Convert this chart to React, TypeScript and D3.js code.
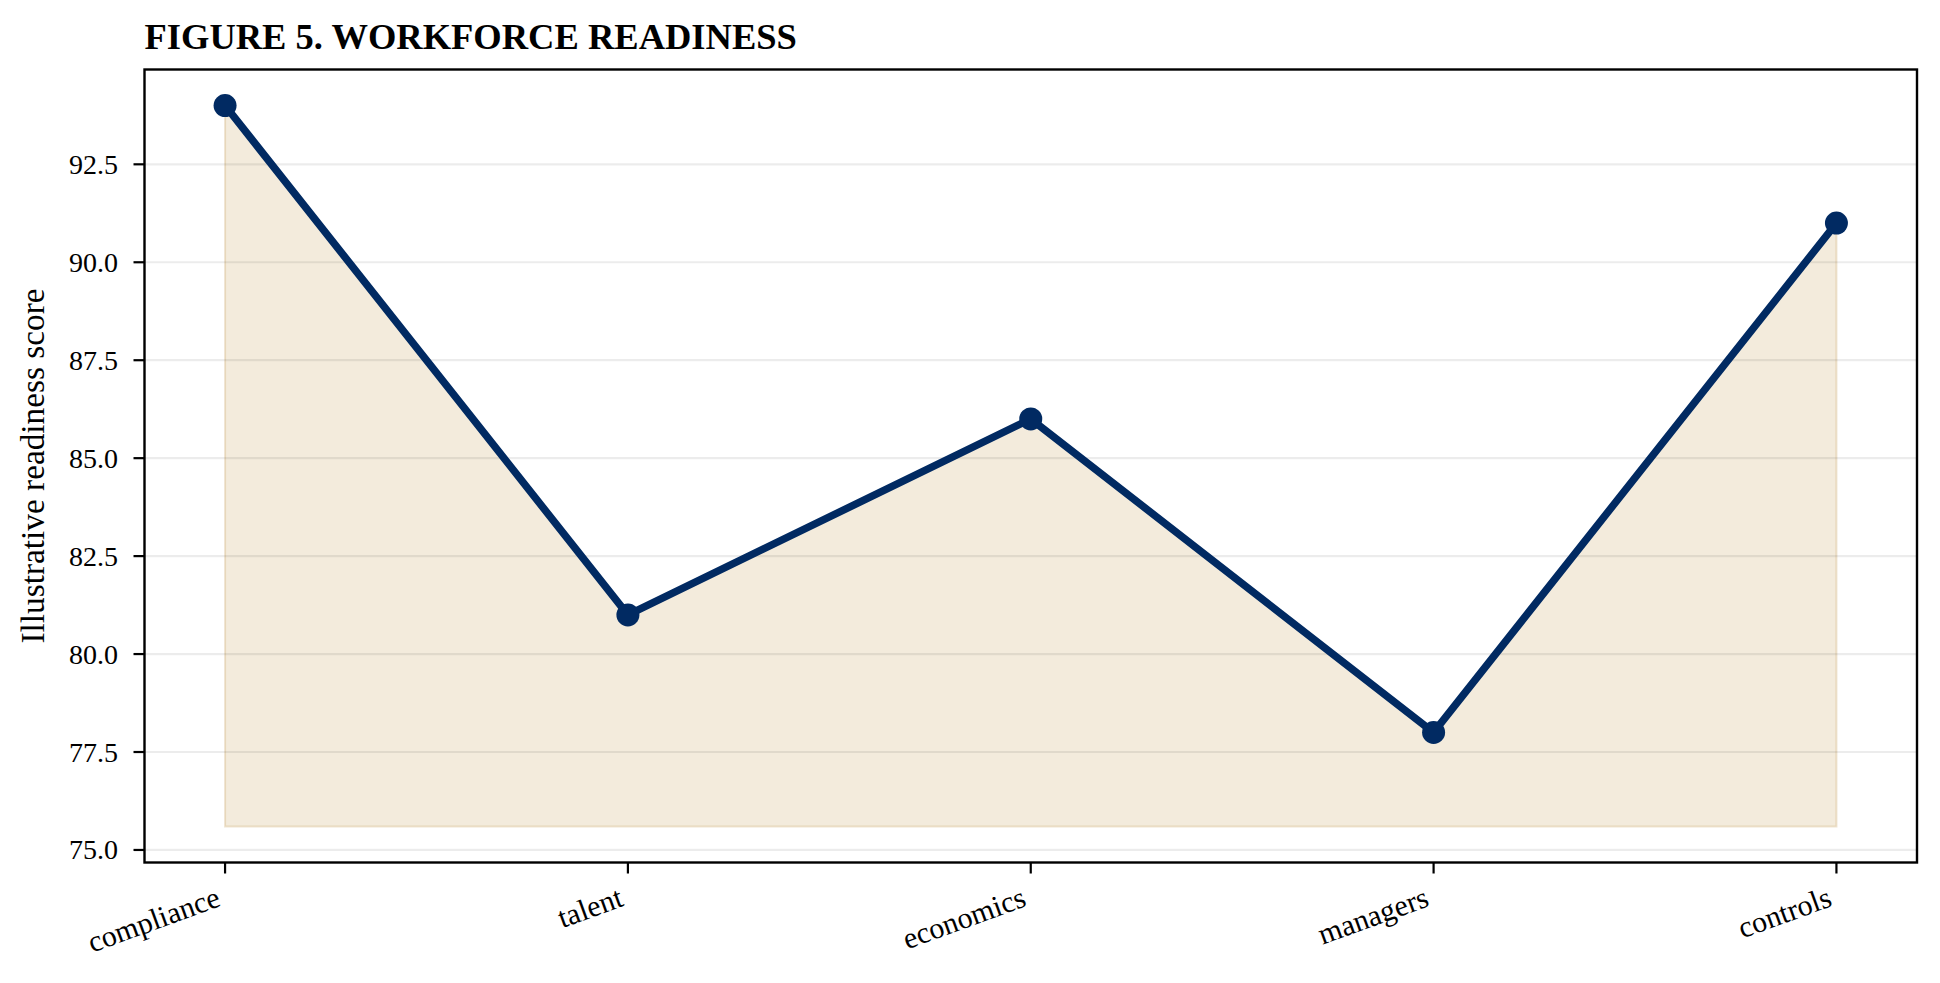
import * as d3 from "d3";

// chart data
const categories = ["compliance", "talent", "economics", "managers", "controls"];
const scores = [94, 81, 86, 78, 91];
const fillBase = 75.6;
const yTicks = [75, 77.5, 80, 82.5, 85, 87.5, 90, 92.5];

const title = "FIGURE 5. WORKFORCE READINESS";
const yLabel = "Illustrative readiness score";

const width = 1940;
const height = 983;
const margin = { top: 69.5, right: 23, bottom: 120.5, left: 144.5 };
const font = "'Liberation Serif', 'Times New Roman', Times, serif";

const navy = "#012A62";
const sand = "#C9A768";

export default function App() {
  const innerRight = width - margin.right;
  const innerBottom = height - margin.bottom;

  // x: categorical positions with 5% padding like matplotlib
  const n = categories.length - 1;
  const x = d3
    .scaleLinear()
    .domain([-0.05 * n, n * 1.05])
    .range([margin.left, innerRight]);

  const lo = Math.min(fillBase, d3.min(scores));
  const hi = d3.max(scores);
  const pad = (hi - lo) * 0.05;
  const y = d3
    .scaleLinear()
    .domain([lo - pad, hi + pad])
    .range([innerBottom, margin.top]);

  const line = d3
    .line<number>()
    .x((d, i) => x(i))
    .y((d) => y(d));

  const area = d3
    .area<number>()
    .x((d, i) => x(i))
    .y0(y(fillBase))
    .y1((d) => y(d));

  const tickLen = 11;

  return (
    <svg
      width={width}
      height={height}
      style={{ position: "absolute", left: 0, top: 0, background: "#fff" }}
      fontFamily={font}
    >
      <rect x={0} y={0} width={width} height={height} fill="#fff" />

      {/* title */}
      <text x={margin.left} y={49} fontSize={36.5} fontWeight="bold" fill="#000">
        {title}
      </text>

      {/* filled area under the line */}
      <path
        d={area(scores)}
        fill={sand}
        fillOpacity={0.23}
        stroke={sand}
        strokeOpacity={0.3}
        strokeWidth={2}
      />

      {/* horizontal grid */}
      {yTicks.map((t) => (
        <line
          key={"g" + t}
          x1={margin.left}
          x2={innerRight}
          y1={y(t)}
          y2={y(t)}
          stroke="#000"
          strokeOpacity={0.075}
          strokeWidth={2.2}
        />
      ))}

      {/* line + markers */}
      <path
        d={line(scores)}
        fill="none"
        stroke={navy}
        strokeWidth={7.5}
        strokeLinejoin="round"
        strokeLinecap="round"
      />
      {scores.map((d, i) => (
        <circle key={"m" + i} cx={x(i)} cy={y(d)} r={11.5} fill={navy} />
      ))}

      {/* frame */}
      <rect
        x={margin.left}
        y={margin.top}
        width={innerRight - margin.left}
        height={innerBottom - margin.top}
        fill="none"
        stroke="#000"
        strokeWidth={2.4}
      />

      {/* y axis */}
      {yTicks.map((t) => (
        <g key={"y" + t}>
          <line
            x1={margin.left - tickLen}
            x2={margin.left}
            y1={y(t)}
            y2={y(t)}
            stroke="#000"
            strokeWidth={2.2}
          />
          <text
            x={118}
            y={y(t)}
            dy="0.34em"
            textAnchor="end"
            fontSize={28}
            fill="#000"
          >
            {d3.format(".1f")(t)}
          </text>
        </g>
      ))}
      <text
        transform={`translate(44,${(margin.top + innerBottom) / 2}) rotate(-90)`}
        textAnchor="middle"
        fontSize={33.3}
        fill="#000"
      >
        {yLabel}
      </text>

      {/* x axis */}
      {categories.map((c, i) => (
        <g key={"x" + c}>
          <line
            x1={x(i)}
            x2={x(i)}
            y1={innerBottom}
            y2={innerBottom + tickLen}
            stroke="#000"
            strokeWidth={2.2}
          />
          <text
            transform={`translate(${x(i) - 3},${innerBottom + tickLen + 32}) rotate(-20)`}
            textAnchor="end"
            fontSize={30}
            fill="#000"
          >
            {c}
          </text>
        </g>
      ))}
    </svg>
  );
}
